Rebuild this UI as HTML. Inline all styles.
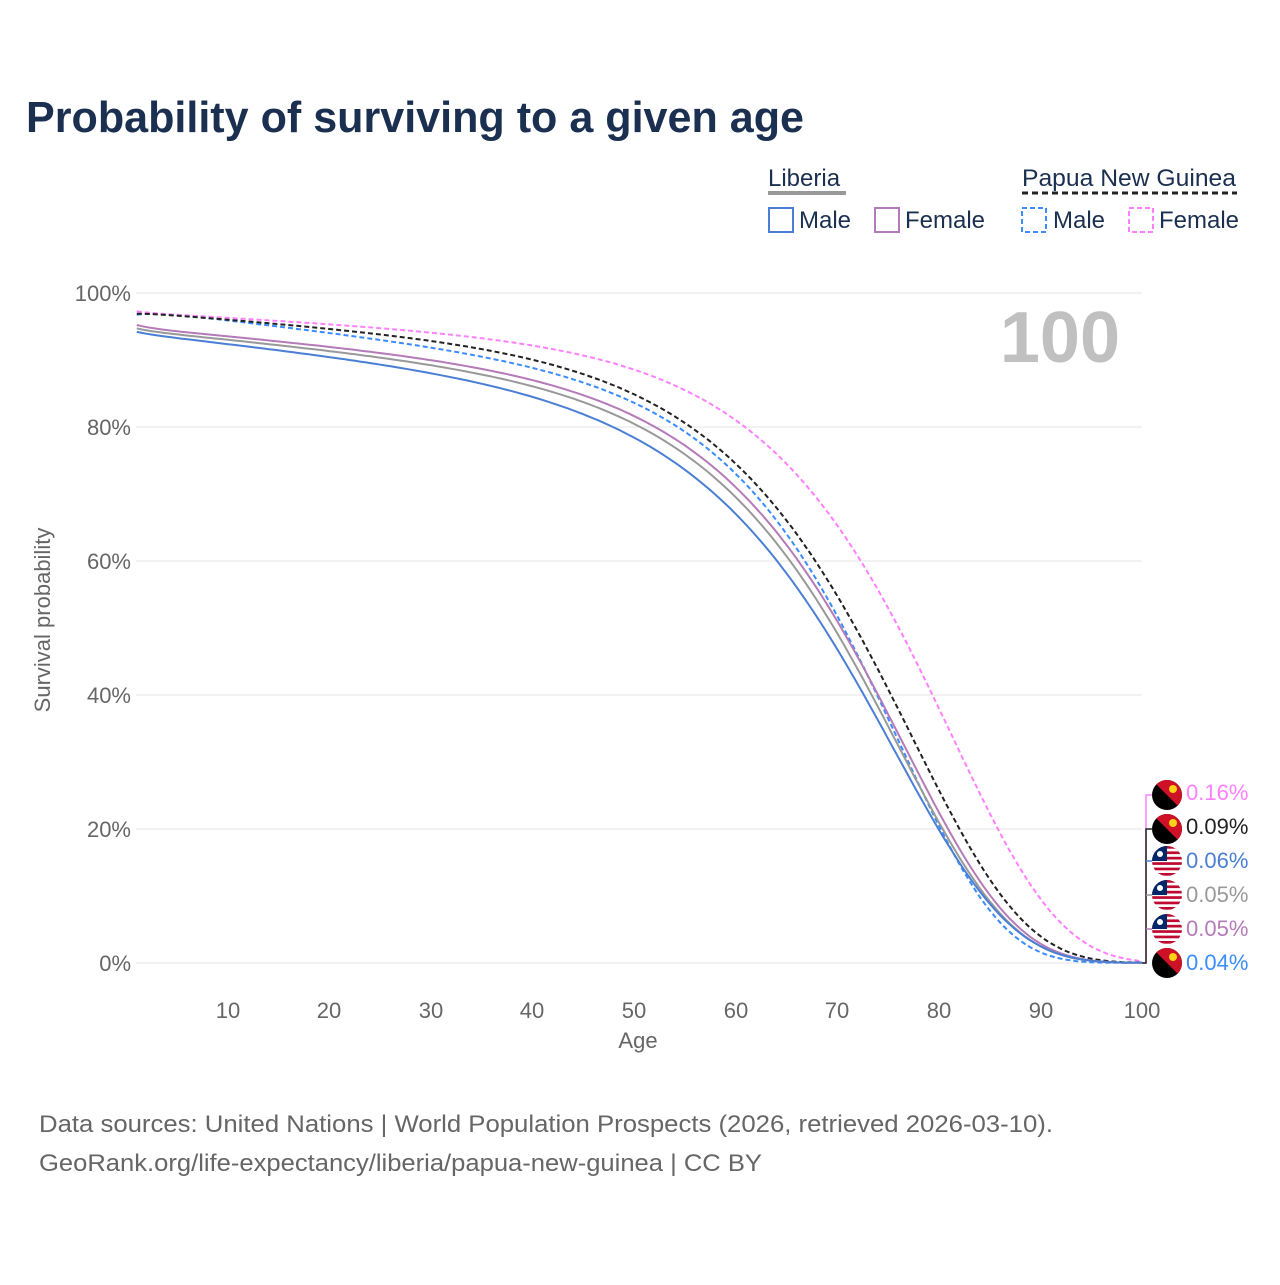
<!DOCTYPE html>
<html><head><meta charset="utf-8"><style>
body{margin:0;background:#fff;width:1280px;height:1280px;overflow:hidden;font-family:"Liberation Sans",sans-serif}
</style></head><body>
<svg width="1280" height="1280" xmlns="http://www.w3.org/2000/svg" font-family="Liberation Sans, sans-serif">
<text x="26" y="132" font-size="44" font-weight="bold" fill="#1b3050" textLength="778" lengthAdjust="spacingAndGlyphs">Probability of surviving to a given age</text>
<g font-size="24" fill="#1b3050">
<text x="768" y="186">Liberia</text>
<line x1="768" y1="193" x2="846" y2="193" stroke="#999" stroke-width="4"/>
<text x="1022" y="186" textLength="214" lengthAdjust="spacingAndGlyphs">Papua New Guinea</text>
<line x1="1022" y1="193" x2="1237" y2="193" stroke="#222" stroke-width="3" stroke-dasharray="6,4"/>
<rect x="769" y="208" width="24" height="24" fill="none" stroke="#4a7fd4" stroke-width="2"/><text x="799" y="228">Male</text>
<rect x="875" y="208" width="24" height="24" fill="none" stroke="#b57ab8" stroke-width="2"/><text x="905" y="228">Female</text>
<rect x="1022" y="208" width="24" height="24" fill="none" stroke="#3a8cff" stroke-width="2" stroke-dasharray="5,3"/><text x="1053" y="228">Male</text>
<rect x="1129" y="208" width="24" height="24" fill="none" stroke="#ff80ff" stroke-width="2" stroke-dasharray="5,3"/><text x="1159" y="228">Female</text>
</g>
<g stroke="#e6e6e6" stroke-width="1">
<line x1="136" x2="1142" y1="293" y2="293"/><line x1="136" x2="1142" y1="427" y2="427"/>
<line x1="136" x2="1142" y1="561" y2="561"/><line x1="136" x2="1142" y1="695" y2="695"/>
<line x1="136" x2="1142" y1="829" y2="829"/><line x1="136" x2="1142" y1="963" y2="963"/>
</g>
<g font-size="22" fill="#666" text-anchor="end">
<text x="131" y="301">100%</text><text x="131" y="435">80%</text><text x="131" y="569">60%</text>
<text x="131" y="703">40%</text><text x="131" y="837">20%</text><text x="131" y="971">0%</text>
</g>
<g font-size="22" fill="#666" text-anchor="middle">
<text x="228" y="1018">10</text><text x="329" y="1018">20</text><text x="431" y="1018">30</text>
<text x="532" y="1018">40</text><text x="634" y="1018">50</text><text x="736" y="1018">60</text>
<text x="837" y="1018">70</text><text x="939" y="1018">80</text><text x="1041" y="1018">90</text>
<text x="1142" y="1018">100</text>
<text x="638" y="1048">Age</text>
<text transform="translate(50,620) rotate(-90)">Survival probability</text>
</g>
<text x="1120" y="362" font-size="72" font-weight="bold" fill="#c0c0c0" text-anchor="end">100</text>
<g id="curves" fill="none" stroke-width="2"></g>
<g stroke-width="1.5" fill="none">
<path d="M1142 963 H1146 V795 H1152" stroke="#ff80ff"/>
<path d="M1142 963 H1146 V829 H1152" stroke="#222"/>
<path d="M1146 861 H1152" stroke="#4a7fd4"/>
<path d="M1146 895 H1152" stroke="#999"/>
<path d="M1146 929 H1152" stroke="#b57ab8"/>
</g>
<g id="flags"></g>
<g font-size="22">
<text x="1186" y="800" fill="#ff80ff">0.16%</text>
<text x="1186" y="834" fill="#222">0.09%</text>
<text x="1186" y="868" fill="#4a7fd4">0.06%</text>
<text x="1186" y="902" fill="#999">0.05%</text>
<text x="1186" y="936" fill="#b57ab8">0.05%</text>
<text x="1186" y="970" fill="#3a8cff">0.04%</text>
</g>
<g font-size="24" fill="#666">
<text x="39" y="1132" textLength="1014" lengthAdjust="spacingAndGlyphs">Data sources: United Nations | World Population Prospects (2026, retrieved 2026-03-10).</text>
<text x="39" y="1171" textLength="723" lengthAdjust="spacingAndGlyphs">GeoRank.org/life-expectancy/liberia/papua-new-guinea | CC BY</text>
</g>
</svg>
<script>
// [color, dash, a1, A10, slope, v60, v80, end]
var S=[
["#3a8cff","5,3",96.8,96.0,0.17,73,20.5,0.04],
["#ff80ff","5,3",97.3,96.4,0.08,81,38,0.16],
["#222","5,3",97.0,96.2,0.11,74.5,25.8,0.09],
["#b57ab8","",95.3,93.7,0.13,71,22.5,0.05],
["#999","",94.8,93.2,0.14,69.5,21,0.05],
["#4a7fd4","",94.3,92.6,0.16,67,19.9,0.06]
];
function X(a){return 126.6+a*10.154}function Y(p){return 963-p*6.7}
var h='';
S.forEach(function(s){
 function A(a){return s[3]-s[4]*(a-10)+(s[2]-s[3]-9*s[4])*Math.exp(-(a-1)/1.8);}
 var u=Math.log(-Math.log(s[5]/A(60))),w=Math.log(-Math.log(s[6]/A(80)));
 var sc=20/(w-u),M=60-u*sc;
 var pts=[];
 for(var a=1;a<=100.001;a+=0.5){var v=A(a)*Math.exp(-Math.exp((a-M)/sc));if(a>=99.9)v=s[7];v=Math.max(v,s[7]);pts.push(X(a).toFixed(1)+','+Y(v).toFixed(1));}
 h+='<polyline points="'+pts.join(' ')+'" stroke="'+s[0]+'"'+(s[1]?' stroke-dasharray="'+s[1]+'"':'')+'/>';
});
document.getElementById('curves').innerHTML=h;
var f='';[[795,'p'],[829,'p'],[861,'l'],[895,'l'],[929,'l'],[963,'p']].forEach(function(v){var y=v[0];
if(v[1]=='p')f+='<circle cx="1167" cy="'+y+'" r="15" fill="#000"/><path d="M1152 '+y+' A15 15 0 0 1 1182 '+y+' L1152 '+y+'Z" fill="#ce1126" transform="rotate(45 1167 '+y+')"/><circle cx="1173" cy="'+(y-6)+'" r="4" fill="#fcd116"/>';
else{f+='<clipPath id="c'+y+'"><circle cx="1167" cy="'+y+'" r="15"/></clipPath><g clip-path="url(#c'+y+')"><rect x="1152" y="'+(y-15)+'" width="30" height="30" fill="#fff"/>';for(var k=0;k<6;k++)f+='<rect x="1152" y="'+(y-15+k*5.4)+'" width="30" height="2.7" fill="#bf0a30"/>';f+='<rect x="1152" y="'+(y-15)+'" width="15" height="15" fill="#002868"/><circle cx="1160" cy="'+(y-7)+'" r="3" fill="#fff"/></g>';}});
document.getElementById('flags').innerHTML=f;
</script>
</body></html>
